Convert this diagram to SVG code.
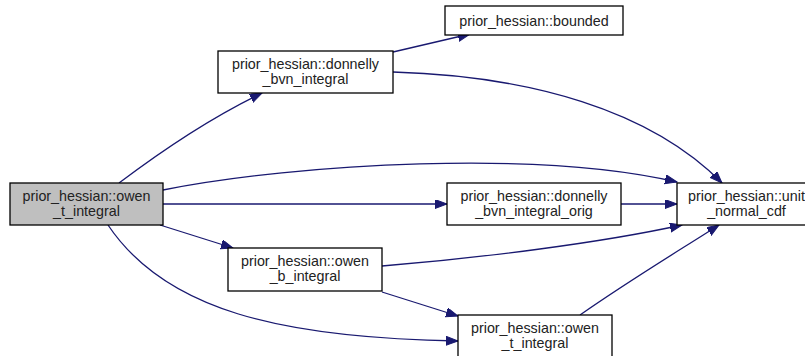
<svg xmlns="http://www.w3.org/2000/svg" width="805" height="356" viewBox="0 0 805 356">
<style>
.n rect{fill:#ffffff;stroke:#000000;stroke-width:1.3}
.n.h rect{fill:#bfbfbf}
.n text{font-family:"Liberation Sans",Arial,Helvetica,sans-serif;font-size:14.3px;fill:#222222;text-anchor:middle}
.e path{fill:none;stroke:#191970;stroke-width:1.3;marker-end:url(#arr)}
</style>
<defs>
<marker id="arr" markerUnits="userSpaceOnUse" markerWidth="14" markerHeight="10" refX="12" refY="4.5" orient="auto">
<polygon points="0,0 12,4.5 0,9" fill="#191970" stroke="#191970"/>
</marker>
</defs>
<rect width="805" height="356" fill="#ffffff"/>
<g id="edges" class="e">
<path d="M119,183 C160,152 210,118 262,93"/>
<path d="M393,52 L470,34"/>
<path d="M393,72 C530,76 650,110 722,183"/>
<path d="M163,190 C300,163 540,150 677,182"/>
<path d="M163,204 L447,204"/>
<path d="M621,204 L677,204"/>
<path d="M160,225 L233,248"/>
<path d="M382,266 C480,258 600,243 682,225"/>
<path d="M382,292 L458,316"/>
<path d="M108,225 C165,310 280,338 458,341"/>
<path d="M580,315 C630,280 680,250 719,225"/>
</g>
<g id="node_owen_t_main" class="n h">
<rect x="10" y="183" width="153" height="42"/>
<text x="86.5" y="201">prior_hessian::owen</text>
<text x="86.5" y="216">_t_integral</text>
</g>
<g id="node_donnelly" class="n">
<rect x="218" y="51" width="175" height="42"/>
<text x="305.5" y="69">prior_hessian::donnelly</text>
<text x="305.5" y="84">_bvn_integral</text>
</g>
<g id="node_bounded" class="n">
<rect x="445" y="6" width="178" height="29"/>
<text x="534" y="25.5">prior_hessian::bounded</text>
</g>
<g id="node_donnelly_orig" class="n">
<rect x="447" y="183" width="174" height="42"/>
<text x="534" y="201">prior_hessian::donnelly</text>
<text x="534" y="216">_bvn_integral_orig</text>
</g>
<g id="node_unit_normal_cdf" class="n">
<rect x="677" y="183" width="140" height="42"/>
<text x="746.5" y="201">prior_hessian::unit</text>
<text x="746.5" y="216">_normal_cdf</text>
</g>
<g id="node_owen_b" class="n">
<rect x="228" y="248" width="154" height="43"/>
<text x="305" y="266">prior_hessian::owen</text>
<text x="305" y="281">_b_integral</text>
</g>
<g id="node_owen_t" class="n">
<rect x="458" y="315" width="154" height="43"/>
<text x="535" y="333">prior_hessian::owen</text>
<text x="535" y="348">_t_integral</text>
</g>
</svg>
